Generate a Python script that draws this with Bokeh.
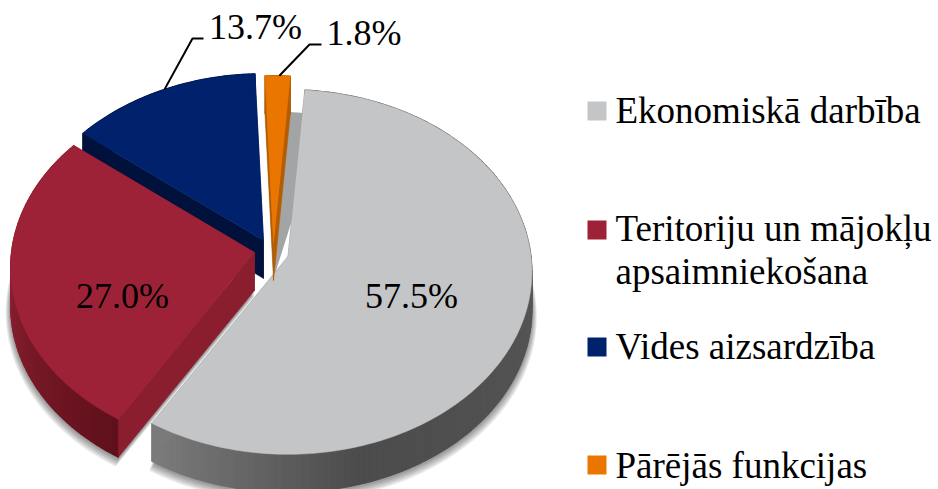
import math
from bokeh.plotting import figure
from bokeh.embed import file_html
from bokeh.resources import INLINE
from bokeh.core.properties import value

# --- data ---
categories = ["Ekonomiskā darbība", "Teritoriju un mājokļu", "Vides aizsardzība", "Pārējās funkcijas"]
legend_extra = ["apsaimniekošana"]
shares = [57.5, 27.0, 13.7, 1.8]
share_labels = ["57.5%", "27.0%", "13.7%", "1.8%"]

# --- style / layout (page pixels) ---
W, H = 938, 489
top_colors = ["#c4c5c7", "#9e2237", "#00216b", "#ea7600"]
side_colors = ["#7a7a7a", "#8a1e2f", "#00123c", "#b35c00"]
apex = [(287.5, 256), (254, 252), (263, 240), (273, 242)]
START = 4.3
RX, RY, K, DEPTH = 243, 181, 0.085, 38
TEXT_DY = 12  # bokeh's baseline offset for these font sizes
label_pos = [(411, 307), (122, 307), (255, 38), (363.5, 44)]
legend_y = [110.5, 229.5, 346.5, 464.5]
legend_base = [122, 240, 358, 477]
FONT = value("Liberation Serif")

p = figure(width=W, height=H, x_range=(0, W), y_range=(H, 0), output_backend="svg",
           toolbar_location=None, min_border=0, margin=(0, 0, 0, 0))
p.axis.visible = False
p.grid.visible = False
p.outline_line_color = None


def pt(c, deg, s=1.0, dy=0):
    a = math.radians(deg)
    u, v = math.sin(a), math.cos(a)
    w = 1 + K * v
    return c[0] + RX * s * u / w, c[1] + dy - RY * s * v / w


def wedge(c, a0, a1, s=1.0, dy=0):
    n = max(int(abs(a1 - a0)), 4)
    pts = [(c[0], c[1] + dy)]
    pts += [pt(c, a0 + (a1 - a0) * i / n, s, dy) for i in range(n + 1)]
    return [q[0] for q in pts], [q[1] for q in pts]


def mix(c1, c2, t):
    t = min(max(t, 0), 1)
    a = [int(c1[i:i + 2], 16) for i in (1, 3, 5)]
    b = [int(c2[i:i + 2], 16) for i in (1, 3, 5)]
    return "#%02x%02x%02x" % tuple(round(x + (y - x) * t) for x, y in zip(a, b))


def wall_color(i, deg):
    if i == 0:
        if deg > 165:
            return mix("#4c4c4c", "#7c7c7c", (deg - 165) / 46)
        return mix("#565656", "#4c4c4c", (deg - 90) / 75)
    if i == 1:
        return mix("#5f101b", "#8a2030", (deg - 211) / 55)
    if i == 2:
        return "#00123c"
    return side_colors[3]


def draw_slice(i, a0, a1):
    c = apex[i]
    n = max(int((a1 - a0) / 1.5), 2)
    xs, ys, cols = [], [], []
    for j in range(n):
        b0 = a0 + (a1 - a0) * j / n
        b1 = a0 + (a1 - a0) * (j + 1) / n
        q = [pt(c, b0), pt(c, b1), pt(c, b1, 1, DEPTH), pt(c, b0, 1, DEPTH)]
        xs.append([t[0] for t in q])
        ys.append([t[1] for t in q])
        cols.append(wall_color(i, (b0 + b1) / 2))
    p.patches(xs, ys, fill_color=cols, line_color=cols, line_width=1.2)
    for ang in (a0, a1):
        e = pt(c, ang)
        e2 = pt(c, ang, 1, DEPTH)
        p.patch([c[0], e[0], e2[0], c[0]], [c[1], e[1], e2[1], c[1] + DEPTH],
                fill_color=side_colors[i], line_color=side_colors[i], line_width=0.5)
    x, y = wedge(c, a0, a1)
    p.patch(x, y, fill_color=top_colors[i], line_color=top_colors[i], line_width=0.5)


angles = []
cur = START
for v in shares:
    angles.append((cur, cur + v * 3.6))
    cur += v * 3.6

# soft shadows under the grey and red slices
for i in (0, 1):
    a0 = angles[i][0] + 60 if i == 0 else angles[i][0]
    a1 = angles[i][1] - (0 if i == 0 else 20)
    for g in range(6):
        x, y = wedge(apex[i], a0, a1, 1.0 + 0.004 * (5 - g), DEPTH + 1 + 1.0 * (5 - g))
        p.patch(x, y, fill_color="#000000", fill_alpha=0.09, line_color=None)

# shadow of the small slice, partly hidden by the grey one
o0, o1 = angles[3]
x, y = wedge(apex[3], o0, o1 + 9, 1.0, DEPTH - 2)
p.patch(x, y, fill_color="#a3a4a6", line_color=None)

draw_slice(0, *angles[0])
draw_slice(3, *angles[3])
draw_slice(2, *angles[2])
draw_slice(1, *angles[1])

p.text([q[0] for q in label_pos], [q[1] - TEXT_DY for q in label_pos], text=share_labels,
       text_font=FONT, text_font_size="36px", text_color="#000000",
       text_align="center", text_baseline="alphabetic")

leader_from = [pt(apex[2], 334), pt(apex[3], 1.5)]
p.line([leader_from[0][0], 192, 203], [leader_from[0][1], 38, 38], line_color="#000000", line_width=2)
p.line([leader_from[1][0], 309, 321], [leader_from[1][1], 44, 44], line_color="#000000", line_width=2)

p.rect([596.5] * 4, legend_y, width=19, height=19, fill_color=top_colors, line_color=None)
p.text([615] * 4, [b - TEXT_DY for b in legend_base], text=categories, text_font=FONT, text_font_size="37px",
       text_color="#000000", text_align="left", text_baseline="alphabetic")
p.text([615], [283 - TEXT_DY], text=legend_extra, text_font=FONT, text_font_size="37px",
       text_color="#000000", text_align="left", text_baseline="alphabetic")

open("out.html", "w").write(file_html(p, INLINE))
